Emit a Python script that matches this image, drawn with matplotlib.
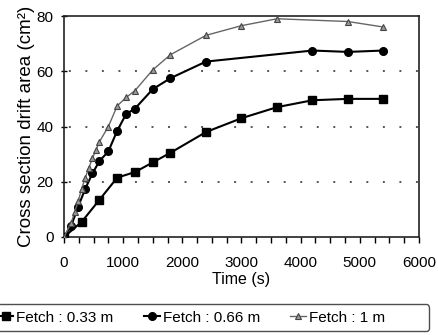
import matplotlib
matplotlib.use("Agg")
import matplotlib.pyplot as plt
from matplotlib.ticker import MultipleLocator

plt.rcParams['font.family'] = ['Liberation Sans', 'DejaVu Sans']

# Fetch 0.33 m
t_033 = [0, 300, 600, 900, 1200, 1500, 1800, 2400, 3000, 3600, 4200, 4800, 5400]
v_033 = [0, 5.5, 13.5, 21.5, 23.5, 27, 30.5, 38, 43, 47, 49.5, 50, 50]

# Fetch 0.66 m
t_066 = [0, 120, 240, 360, 480, 600, 750, 900, 1050, 1200, 1500, 1800, 2400, 4200, 4800, 5400]
v_066 = [0, 4, 11, 17.5, 23, 27.5, 31, 38.5, 44.5, 46.5, 53.5, 57.5, 63.5, 67.5, 67, 67.5]

# Fetch 1 m
t_1 = [0, 120, 180, 240, 300, 360, 420, 480, 540, 600, 750, 900, 1050, 1200, 1500, 1800, 2400, 3000, 3600, 4800, 5400]
v_1 = [0, 5, 9, 13, 17.5, 21.5, 25, 28.5, 31.5, 34.5, 40, 47.5, 50.5, 53, 60.5, 66, 73, 76.5, 79, 78, 76]

grid_levels = [20, 40, 60]
labels = ['Fetch : 0.33 m', 'Fetch : 0.66 m', 'Fetch : 1 m         ']

fig = plt.figure(figsize=(4.39, 3.35), dpi=100)
ax = fig.add_axes([64/439, 1-237/335, (419-64)/439, (237-16)/335])

for g in grid_levels:
    ax.axhline(g, color='#555555', lw=1.4, linestyle=(6, (1.0, 7.5)), zorder=1)

l1, = ax.plot(t_033, v_033, color='black', lw=1.5, marker='s', ms=5.5,
              mfc='black', mec='black', zorder=3)
l2, = ax.plot(t_066, v_066, color='black', lw=1.5, marker='o', ms=5.5,
              mfc='black', mec='black', zorder=3)
l3, = ax.plot(t_1, v_1, color='#666666', lw=1.0, marker='^', ms=5,
              mfc='#999999', mec='#444444', mew=0.8, zorder=4)

ax.set_xlim(0, 6000)
ax.set_ylim(0, 80)
ax.xaxis.set_major_locator(MultipleLocator(1000))
ax.xaxis.set_minor_locator(MultipleLocator(250))
ax.yaxis.set_major_locator(MultipleLocator(20))

ax.tick_params(axis='x', which='both', direction='out', length=4, width=1,
               labelsize=11, pad=10)
ax.tick_params(axis='y', which='major', direction='inout', length=5, width=1,
               labelsize=11, pad=5)
for s in ax.spines.values():
    s.set_linewidth(1.2)
    s.set_color('#222222')

ax.set_xlabel('Time (s)', fontsize=11.5, labelpad=1)
ax.set_ylabel('Cross section drift area (cm²)', fontsize=13.5, labelpad=1)

leg = fig.legend([l1, l2, l3], labels, loc='center left', ncol=3,
                 bbox_to_anchor=(-8/439, 0.052), fontsize=11, frameon=True,
                 fancybox=True, edgecolor='#222222', handlelength=1.0,
                 handletextpad=0.2, columnspacing=2.0, numpoints=1,
                 borderpad=0.4, borderaxespad=0)
leg.get_frame().set_linewidth(1.0)

fig.savefig('out.png', dpi=100)
